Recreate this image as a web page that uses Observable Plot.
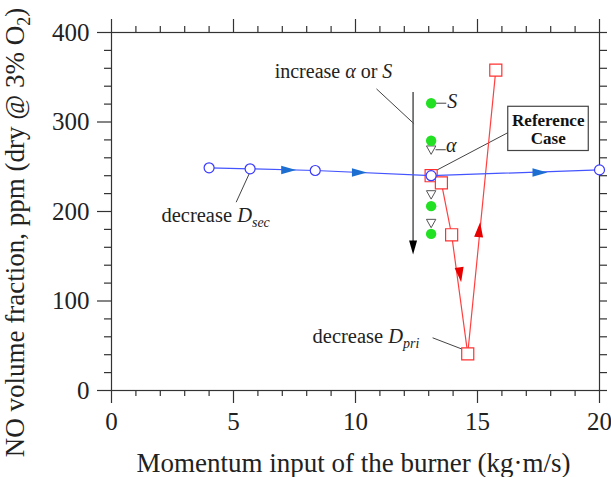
<!DOCTYPE html>
<html><head><meta charset="utf-8">
<script src="https://cdn.jsdelivr.net/npm/d3@7"></script>
<script src="https://cdn.jsdelivr.net/npm/@observablehq/plot@0.6"></script>
<style>body{margin:0;background:#fff} svg{display:block} svg text{font-family:"Liberation Serif","Times New Roman",Tinos,"DejaVu Serif",serif !important}</style>
</head><body><div id="chart"></div>
<script>
// ---- axis ticks ----
const xTicks = [0, 5, 10, 15, 20];
const yTicks = [0, 100, 200, 300, 400];
const xMinor = [1,2,3,4,6,7,8,9,11,12,13,14,16,17,18,19];
const yMinor = [20,40,60,80,120,140,160,180,220,240,260,280,320,340,360,380];
const yAllTicks = [0,20,40,60,80,100,120,140,160,180,200,220,240,260,280,300,320,340,360,380,400];

// ---- series: decrease D_sec (blue) ----
const secX = [4.0, 5.68, 8.35, 13.1, 20.0];
const secY = [248.8, 247.7, 245.8, 240, 246.5];
const secArrowX = [7.2, 10.1, 17.5];
const secArrowY = [246.3, 243.6, 243.6];

// ---- series: decrease D_pri (red) ----
const priX = [13.1, 13.52, 13.94, 14.6, 15.75];
const priY = [240, 232, 174, 41, 358];
const priDownX = [14.28], priDownY = [131];
const priUpX = [15.07], priUpY = [178];

// ---- series: increase S (green) and alpha (triangles), at fixed momentum ----
const sX = [13.1, 13.1, 13.1, 13.1, 13.1];
const sY = [321, 279, 240, 206, 175];
const aX = [13.1, 13.1, 13.1, 13.1];
const aY = [269, 240, 219, 187];

// ---- "increase alpha or S" arrow ----
const bigArrowX = [12.36];
const bigArrowFrom = [333];
const bigArrowTo = [152];

// ---- annotations (data units) ----
const leaderX1 = [10.86, 5.11, 13.16, 16.26, 13.22, 13.28];
const leaderY1 = [337, 210.4, 58.9, 288.3, 321, 269];
const leaderX2 = [12.4, 5.64, 14.41, 13.15, 13.72, 13.7];
const leaderY2 = [298, 242, 45.8, 243.6, 321, 269];

const boxX = [16.26, 19.56], boxY = [267.6, 317];
const boxText = ["Reference", "Case"];
const boxTextX = [17.9, 17.9];
const boxTextY = [301.5, 281.8];

const xLabel = "Momentum input of the burner (kg·m/s)";

const sec = secX.map((x, i) => ({x, y: secY[i]}));
const pri = priX.map((x, i) => ({x, y: priY[i]}));
const sArr = secArrowX.map((x, i) => ({x, y: secArrowY[i]}));
const sS = sX.map((x, i) => ({x, y: sY[i]}));
const sA = aX.map((x, i) => ({x, y: aY[i]}));
const leaders = leaderX1.map((x1, i) => ({x1, y1: leaderY1[i], x2: leaderX2[i], y2: leaderY2[i]}));

function arrowSym(angle, len, wid, tipFrac = 0.6) {
  const a = angle * Math.PI / 180, c = Math.cos(a), s = Math.sin(a);
  const pts = [[0, -len * tipFrac], [wid / 2, len * (1 - tipFrac)], [-wid / 2, len * (1 - tipFrac)]]
    .map(([x, y]) => [x * c - y * s, x * s + y * c]);
  return {draw(ctx) { ctx.moveTo(...pts[0]); ctx.lineTo(...pts[1]); ctx.lineTo(...pts[2]); ctx.closePath(); }};
}
const triDown = {draw(ctx) { ctx.moveTo(-4.7, -3.8); ctx.lineTo(4.7, -3.8); ctx.lineTo(0, 4.6); ctx.closePath(); }};

const axisColor = "#333";
const font = "Liberation Serif";

const chart = Plot.plot({
  width: 611, height: 477,
  marginLeft: 111, marginRight: 12, marginTop: 32, marginBottom: 87,
  style: {fontFamily: font, fontSize: "25px", color: "#222", background: "white"},
  x: {domain: [0, 20]},
  y: {domain: [0, 400]},
  marks: [
    // axes
    Plot.axisX({anchor: "bottom", ticks: xMinor, tickSize: 6, tickFormat: () => "", label: null, stroke: axisColor, strokeWidth: 1.2}),
    Plot.axisX({anchor: "bottom", ticks: xTicks, tickSize: 13, tickPadding: 9, fontSize: 25, label: null, stroke: axisColor, strokeWidth: 1.2}),
    Plot.axisX({anchor: "top", ticks: xMinor, tickSize: 7, tickFormat: () => "", label: null, stroke: axisColor, strokeWidth: 1.2}),
    Plot.axisX({anchor: "top", ticks: xTicks, tickSize: 14, tickFormat: () => "", label: null, stroke: axisColor, strokeWidth: 1.2}),
    Plot.axisY({anchor: "left", ticks: yMinor, tickSize: 7, tickFormat: () => "", label: null, stroke: axisColor, strokeWidth: 1.2}),
    Plot.axisY({anchor: "left", ticks: yTicks, tickSize: 14, tickPadding: 8, fontSize: 25, label: null, stroke: axisColor, strokeWidth: 1.2}),
    Plot.axisY({anchor: "right", ticks: yAllTicks, tickSize: 7, tickFormat: () => "", label: null, stroke: axisColor, strokeWidth: 1.2}),
    Plot.frame({stroke: axisColor, strokeWidth: 1.2}),

    // leaders and box
    Plot.link(leaders, {x1: "x1", y1: "y1", x2: "x2", y2: "y2", stroke: "#444", strokeWidth: 1}),
    Plot.rect([{x1: boxX[0], x2: boxX[1], y1: boxY[0], y2: boxY[1]}], {x1: "x1", x2: "x2", y1: "y1", y2: "y2", fill: "white", stroke: "#444", strokeWidth: 1.2}),
    Plot.text(boxText, {x: (d, i) => boxTextX[i], y: (d, i) => boxTextY[i], text: d => d, fontWeight: "bold", fontSize: 17, fill: "#111"}),

    // big arrow
    Plot.ruleX(bigArrowX, {x: d => d, y1: bigArrowFrom[0], y2: bigArrowTo[0] + 12, stroke: "#555", strokeWidth: 1.5}),
    Plot.dot(bigArrowX, {x: d => d, y: bigArrowTo[0] + 9.4, symbol: arrowSym(180, 14, 8), fill: "#000", stroke: "none"}),

    // green S and alpha triangles
    Plot.dot(sA, {x: "x", y: "y", symbol: triDown, fill: "white", stroke: "#555", strokeWidth: 1}),
    Plot.dot(sS, {x: "x", y: "y", r: 5.2, fill: "#22e022", stroke: "none"}),

    // red D_pri
    Plot.line(pri, {x: "x", y: "y", stroke: "#ff4040", strokeWidth: 1.2}),
    Plot.dot(priDownX, {x: d => d, y: (d, i) => priDownY[i], symbol: arrowSym(172.4, 15, 9), fill: "#e80000", stroke: "none"}),
    Plot.dot(priUpX, {x: d => d, y: (d, i) => priUpY[i], symbol: arrowSym(5.7, 15, 9), fill: "#e80000", stroke: "none"}),
    Plot.dot(pri, {x: "x", y: "y", symbol: "square", r: 6.8, fill: "white", stroke: "#ff3030", strokeWidth: 1.2}),

    // blue D_sec
    Plot.line(sec, {x: "x", y: "y", stroke: "#4455ff", strokeWidth: 1.2}),
    Plot.dot(sArr, {x: "x", y: "y", symbol: arrowSym(90, 15, 8.5), fill: "#1c6fd0", stroke: "none"}),
    Plot.dot(sec, {x: "x", y: "y", r: 5, fill: "white", stroke: "#3a3aff", strokeWidth: 1.2})
  ]
});
document.getElementById("chart").appendChild(chart);

// ---- rich text labels (italic / subscripts) ----
const sx = chart.scale("x"), sy = chart.scale("y");
const svg = d3.select(chart);
const richLabels = [
  {x: 9.12, y: 348.6, anchor: "middle", size: 20, parts: [["increase ", ""], ["α", "i"], [" or ", ""], ["S", "i"]]},
  {x: 2.07, y: 188, anchor: "start", size: 20.5, parts: [["decrease ", ""], ["D", "i"], ["sec", "sub"]]},
  {x: 8.26, y: 52.5, anchor: "start", size: 20.5, parts: [["decrease ", ""], ["D", "i"], ["pri", "sub"]]},
  {x: 13.78, y: 314.7, anchor: "start", size: 20, parts: [["S", "i"]]},
  {x: 13.73, y: 266.3, anchor: "start", size: 20, parts: [["α", "i"]]}
];
for (const L of richLabels) {
  const t = svg.append("text")
    .attr("x", sx.apply(L.x)).attr("y", sy.apply(L.y))
    .attr("text-anchor", L.anchor)
    .attr("font-size", L.size).attr("fill", "#222");
  for (const [s, k] of L.parts) {
    const ts = t.append("tspan").text(s);
    if (k === "i") ts.attr("font-style", "italic");
    if (k === "sub") ts.attr("font-style", "italic").attr("font-size", L.size * 0.68).attr("dy", 5);
  }
}

// axis titles
svg.append("text")
  .attr("x", 353.5).attr("y", 471.5)
  .attr("text-anchor", "middle").attr("font-size", 27).attr("fill", "#222")
  .text(xLabel);
const yt = svg.append("text")
  .attr("transform", "translate(24,232.5) rotate(-90)")
  .attr("text-anchor", "middle").attr("font-size", 27).attr("fill", "#222");
yt.append("tspan").text("NO volume fraction, ppm (dry @ 3% O");
yt.append("tspan").text("2").attr("font-size", 18).attr("dy", 6);
yt.append("tspan").text(")").attr("dy", -6);
</script>
</body></html>
